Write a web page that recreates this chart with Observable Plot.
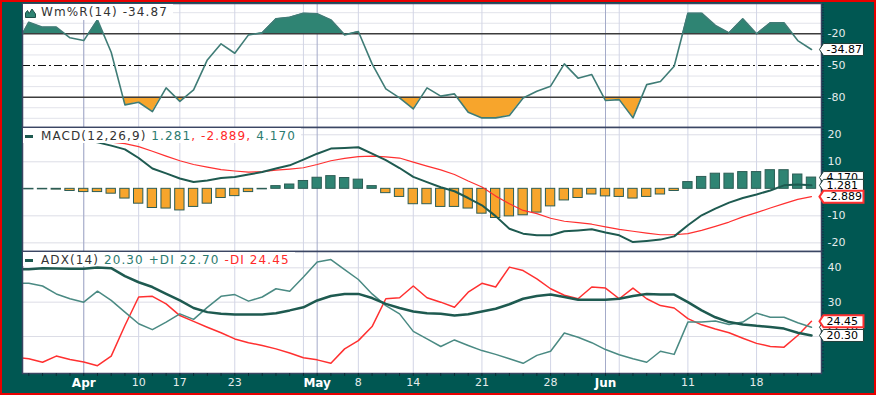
<!DOCTYPE html>
<html><head><meta charset="utf-8">
<script src="https://cdn.jsdelivr.net/npm/d3@7"></script>
<script src="https://cdn.jsdelivr.net/npm/@observablehq/plot@0.6"></script>
<style>
body{margin:0;background:#fff}
#wrap{position:relative;width:876px;height:395px;background:#005752;overflow:hidden}
.lg{position:absolute;left:23px;background:#fff;padding:0 5px 0 18px;font:12px "DejaVu Sans",sans-serif;letter-spacing:1.1px;color:#333;white-space:nowrap;line-height:17px;overflow:hidden}
.teal{color:#2b7b70}.red{color:#ff2a2a}
.bar{position:absolute;left:2px;top:7px;width:8px;height:3px;background:#1e5a50}
#border{position:absolute;left:0;top:0;width:876px;height:395px;box-sizing:border-box;border:2px solid #e80000;pointer-events:none}
</style></head><body>
<div id="wrap"></div>
<script>
// ---------- data (index -1 .. 57, one value per trading day) ----------
const idx = d3.range(-1, 58);
const wmr = [-33,-9.0,-13.7,-13.7,-23.8,-26.4,-6.8,-37.4,-87.3,-84.8,-93.6,-71.2,-83.9,-73.1,-44.7,-29.5,-38.4,-21.0,-19.1,-5.8,-4.3,-0.5,-1.1,-6.8,-21.0,-17.8,-48.5,-72.2,-80.7,-91.1,-71.2,-79.0,-76.9,-94.3,-99.6,-99.6,-97.4,-80.7,-74.4,-69.6,-48.5,-62.0,-58.6,-83.2,-82.3,-99.6,-68.1,-65.2,-50.7,-0.5,-0.5,-12.1,-19.1,-5.8,-20.0,-9.6,-9.6,-26.4,-34.87];
const macd = [20.0,19.8,19.5,19.2,18.7,18.1,17.2,16.0,14.6,11.4,7.5,5.7,3.8,2.5,3.1,4.0,4.4,5.3,6.2,7.5,8.7,10.8,13.0,14.9,15.1,15.4,13.0,10.6,7.7,4.4,2.5,0.6,-0.9,-3.4,-6.1,-10.1,-14.8,-16.6,-17.2,-17.2,-15.7,-15.4,-15.0,-16.2,-17.2,-19.7,-19.3,-18.8,-17.6,-13.5,-9.8,-7.3,-5.1,-3.4,-2.1,-0.6,1.3,1.6,1.281];
const signal = [19.9,19.6,19.3,19.0,18.6,18.2,17.8,17.3,16.7,15.6,13.9,12.1,10.4,9.0,8.0,7.1,6.6,6.2,6.4,6.9,7.3,7.8,9.0,10.4,11.3,11.9,12.1,11.8,11.4,9.9,8.4,7.0,5.3,2.9,0.7,-2.7,-5.5,-8.0,-9.2,-10.9,-12.0,-12.5,-13.1,-14.1,-15.0,-15.7,-16.4,-17.0,-17.0,-16.6,-15.4,-13.9,-12.3,-10.4,-8.8,-7.1,-5.5,-3.9,-2.889];
const hist = [-0.1,-0.2,-0.2,-0.3,-0.8,-1.2,-1.2,-1.8,-3.6,-5.5,-7.1,-7.3,-8.0,-6.7,-5.5,-3.4,-2.7,-1.2,-0.2,1.0,1.6,2.9,4.1,4.7,4.0,3.4,1.0,-1.6,-3.0,-5.7,-5.7,-6.7,-6.7,-7.3,-9.2,-10.8,-10.2,-9.8,-8.8,-6.5,-4.3,-3.4,-2.1,-2.8,-3.0,-3.6,-3.0,-2.1,-0.8,2.5,4.4,5.6,5.6,6.2,6.2,6.9,6.9,5.3,4.17];
const adx = [39.5,39.6,39.9,39.8,39.7,39.7,40.1,39.9,37.6,35.8,34.4,32.4,30.5,28.3,27.1,26.6,26.4,26.4,26.4,26.8,27.6,28.5,30.5,31.8,32.4,32.4,31.2,29.5,28.3,27.3,26.8,26.6,26.1,26.5,27.3,28.1,29.4,31.0,31.8,32.2,31.5,30.7,30.7,30.7,31.0,31.8,32.4,32.2,32.2,30.0,27.6,25.6,24.2,23.5,23.1,22.8,22.3,21.1,20.30];
const plusDI = [35.5,35.5,34.7,32.4,31.0,30.0,33.2,30.5,27.1,23.7,22.0,24.2,26.6,25.0,28.5,31.7,32.2,30.3,31.5,33.9,33.2,37.3,41.7,42.4,39.5,36.6,32.4,29.0,26.6,21.5,19.3,17.1,19.0,17.4,15.9,14.8,13.5,12.2,14.5,15.7,21.0,19.8,18.2,16.2,14.7,13.5,12.5,15.7,14.8,24.2,24.2,24.5,23.5,24.2,26.8,25.6,25.6,24.0,22.70];
const minusDI = [14.0,13.5,12.5,14.3,13.3,12.6,11.5,14.3,23.2,31.5,31.7,29.5,26.1,24.4,22.7,21.1,19.3,18.2,17.4,16.4,15.2,13.8,13.2,12.2,16.4,18.8,22.9,31.0,31.3,34.7,31.3,30.0,28.5,32.9,35.5,34.4,40.2,39.2,36.8,33.9,32.0,31.0,34.4,34.1,31.0,34.1,31.0,29.0,28.3,25.2,23.4,22.2,21.1,19.5,18.0,17.1,16.9,20.3,24.45];

// x axis (trading-day index) ticks and labels
const weekIdx = [4,8,11,15,20,24,28,33,38,43,48,53];
const monthIdx = [4,21,42];
const tickIdx = [4,8,11,15,21,24,28,33,38,42,48,53];
const tickLabels = ["Apr","10","17","23","May","8","14","21","28","Jun","11","18"];
// y ticks / levels
const wmrTicks = [-20,-50,-80];
const wmrGrid = [0,-10,-30,-40,-60,-70,-90,-100];
const macdTicks = [20,10,-10,-20];
const adxTicks = [40,30];
const adxGrid = [40,30,20];

// ---------- styling ----------
const TEAL = "#2f8473", ORANGE = "#f7a52c", DARK = "#1e5a50", RED = "#ff3030", DI = "#4a8a83";
const xDom = [-0.46, 57.73];
const last = idx[idx.length - 1];
const rows = arr => idx.map((i, k) => ({i, v: arr[k]}));
const wrap = document.getElementById("wrap");

function panel(h, mb, yDom, marks) {
  return Plot.plot({
    width: 876, height: h, marginLeft: 22, marginRight: 55, marginTop: 0, marginBottom: mb,
    x: {domain: xDom, axis: null, label: null},
    y: {domain: yDom, axis: null, label: null},
    style: {background: "transparent", fontFamily: "DejaVu Sans, sans-serif", fontSize: "11px", overflow: "visible"},
    marks
  });
}
function place(svg, top) {
  svg.style.position = "absolute"; svg.style.left = "0px"; svg.style.top = top + "px";
  wrap.appendChild(svg);
}
const vgrid = () => [
  Plot.ruleX(weekIdx, {stroke: "#d2d5e6", strokeWidth: 1}),
  Plot.ruleX(monthIdx, {stroke: "#a4abc9", strokeWidth: 1})
];
const tagSym = {draw(ctx) { ctx.moveTo(0, 0); ctx.lineTo(4, -6); ctx.lineTo(44, -6); ctx.lineTo(44, 6); ctx.lineTo(4, 6); ctx.closePath(); }};
function tag(v, label, color, w) {
  return [
    Plot.dot([{i: last, v}], {x: "i", y: "v", symbol: tagSym, dx: 8, fill: "#fff", stroke: color, strokeWidth: w}),
    Plot.text([{i: last, v, label}], {x: "i", y: "v", text: "label", dx: 15, textAnchor: "start", fill: "#000", fontSize: 11, fontFamily: "DejaVu Sans, sans-serif"})
  ];
}
const yAxis = ticks => Plot.axisY(ticks, {anchor: "right", tickSize: 0, tickPadding: 6, tickFormat: d => String(d), fill: "#e4ecec", fontSize: 11, label: null});
const yMinor = ticks => Plot.axisY(ticks, {anchor: "right", tickSize: 2, tickFormat: () => "", stroke: "#14324a", label: null});

// fill between a series and a level
function band(arr, level, above, color) {
  const data = rows(arr);
  if (Plot.differenceY) {
    return Plot.differenceY(data, {x: "i", y1: () => level, y2: "v",
      positiveFill: above ? color : "none", negativeFill: above ? "none" : color,
      positiveFillOpacity: 1, negativeFillOpacity: 1, stroke: "none"});
  }
  const pts = [];
  for (let k = 0; k < data.length; k++) {
    const a = data[k]; pts.push(a);
    const b = data[k + 1];
    if (b && (a.v - level) * (b.v - level) < 0) {
      const t = (level - a.v) / (b.v - a.v);
      pts.push({i: a.i + t * (b.i - a.i), v: level});
    }
  }
  return Plot.areaY(pts, {x: "i", y1: () => level, y2: d => above ? Math.max(d.v, level) : Math.min(d.v, level), fill: color, clip: true});
}

// ---------- Panel 1: Williams %R ----------
place(panel(124, 0, [-108.7, 8.7], [
  Plot.frame({fill: "#fff"}),
  Plot.ruleY(wmrGrid, {stroke: "#e2e3ea"}),
  ...vgrid(),
  band(wmr, -20, true, TEAL),
  band(wmr, -80, false, ORANGE),
  Plot.ruleY([-20, -80], {stroke: "#3c3c3c", strokeWidth: 1.5}),
  Plot.ruleY([-50], {stroke: "#111", strokeWidth: 1.2, strokeDasharray: "8,3,2,3"}),
  Plot.line(rows(wmr), {x: "i", y: "v", stroke: "#3f7c76", strokeWidth: 1.6, clip: true}),
  Plot.frame({stroke: "#3b4663", strokeWidth: 1.5}),
  yMinor(d3.range(-107.5, 8.7, 2.5)),
  yAxis(wmrTicks),
  ...tag(wmr[wmr.length - 1], wmr[wmr.length - 1].toFixed(2), "#1d3d38", 1)
]), 3);

// ---------- Panel 2: MACD ----------
place(panel(124, 0, [-23.2, 22.7], [
  Plot.frame({fill: "#fff"}),
  Plot.ruleY(macdTicks, {stroke: "#dcdde6"}),
  ...vgrid(),
  Plot.rect(rows(hist), {x1: d => d.i - 0.34, x2: d => d.i + 0.34, y1: () => 0, y2: "v",
    fill: d => d.v >= 0 ? TEAL : ORANGE, stroke: "#2d5d55", strokeWidth: 1, clip: true}),
  Plot.line(rows(signal), {x: "i", y: "v", stroke: RED, strokeWidth: 1.2, clip: true}),
  Plot.line(rows(macd), {x: "i", y: "v", stroke: DARK, strokeWidth: 2, clip: true}),
  Plot.frame({stroke: "#3b4663", strokeWidth: 1.5}),
  yMinor(d3.range(-23, 23, 1)),
  yAxis(macdTicks),
  ...tag(hist[hist.length - 1], hist[hist.length - 1].toFixed(3), "#1d3d38", 1),
  ...tag(macd[macd.length - 1], macd[macd.length - 1].toFixed(3), "#1d3d38", 1),
  ...tag(signal[signal.length - 1], signal[signal.length - 1].toFixed(3), RED, 2)
]), 127);

// ---------- Panel 3: ADX ----------
const isMonth = tickLabels.map(l => /[A-Za-z]/.test(l));
const labelOf = i => tickLabels[tickIdx.indexOf(i)];
place(panel(144, 22, [9.23, 44.75], [
  Plot.frame({fill: "#fff"}),
  Plot.ruleY(adxGrid, {stroke: "#dcdde6"}),
  ...vgrid(),
  Plot.line(rows(minusDI), {x: "i", y: "v", stroke: RED, strokeWidth: 1.5, clip: true}),
  Plot.line(rows(plusDI), {x: "i", y: "v", stroke: DI, strokeWidth: 1.5, clip: true}),
  Plot.line(rows(adx), {x: "i", y: "v", stroke: DARK, strokeWidth: 2.5, clip: true}),
  Plot.frame({stroke: "#3b4663", strokeWidth: 1.5}),
  yMinor(d3.range(10, 45, 1)),
  yAxis(adxTicks),
  Plot.axisX(d3.range(0, 58), {tickSize: 3, tickFormat: () => "", stroke: "#0d2b36", label: null}),
  Plot.axisX(tickIdx.filter((_, k) => !isMonth[k]), {tickSize: 0, tickPadding: 5, tickFormat: labelOf, fill: "#e4ecec", fontSize: 11, label: null}),
  Plot.axisX(tickIdx.filter((_, k) => isMonth[k]), {tickSize: 0, tickPadding: 5, tickFormat: labelOf, fill: "#ffffff", fontSize: 12, fontWeight: "bold", label: null}),
  ...tag(plusDI[plusDI.length - 1], plusDI[plusDI.length - 1].toFixed(2), "#1d3d38", 1),
  ...tag(adx[adx.length - 1], adx[adx.length - 1].toFixed(2), "#1d3d38", 1),
  ...tag(minusDI[minusDI.length - 1], minusDI[minusDI.length - 1].toFixed(2), RED, 2)
]), 251);

// ---------- legends ----------
function legend(top, h, html) {
  const d = document.createElement("div");
  d.className = "lg"; d.style.top = top + "px"; d.style.height = h + "px";
  d.innerHTML = html; wrap.appendChild(d);
}
const f = (a, n) => a[a.length - 1].toFixed(n);
legend(4, 16, `<svg width="11" height="10" style="position:absolute;left:2px;top:4px"><path d="M0.5,9.5 L0.5,5 L2.5,2.5 L4.2,5.5 L7,1 L10.5,6 L10.5,9.5 Z" fill="${TEAL}" stroke="#1d4f47" stroke-width="1"/></svg>Wm%R(14) ${f(wmr, 2)}`);
legend(128, 15, `<span class="bar"></span>MACD(12,26,9) <span class="teal">${f(macd, 3)}</span><span class="red">, ${f(signal, 3)},</span><span class="teal"> ${f(hist, 3)}</span>`);
legend(252, 14, `<span class="bar"></span>ADX(14) <span class="teal">${f(adx, 2)} +DI ${f(plusDI, 2)}</span> <span class="red">-DI ${f(minusDI, 2)}</span>`);

const b = document.createElement("div"); b.id = "border"; wrap.appendChild(b);
</script></body></html>
